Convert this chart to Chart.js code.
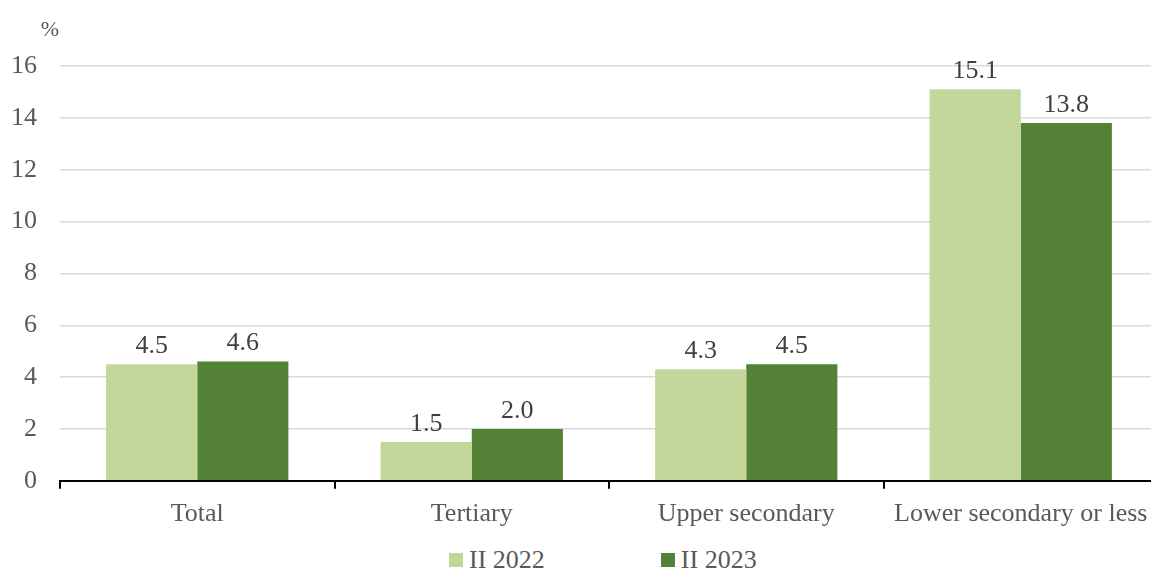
<!DOCTYPE html>
<html>
<head>
<meta charset="utf-8">
<script src="https://cdn.jsdelivr.net/npm/chart.js@4"></script>
<style>
  html, body { margin: 0; padding: 0; background: #fff; overflow: hidden; }
  #wrap { position: relative; width: 1160px; height: 570px; }
  #box { position: absolute; left: 0; top: 0; width: 1160px; height: 540px; }
  #legend { position: absolute; left: 449px; top: 545px; display: flex; gap: 116px; line-height: 30px;
    font-family: "Liberation Serif", serif; font-size: 26px; color: #595959; }
  #legend span.item { display: flex; align-items: center; }
  #legend i { display: inline-block; width: 14px; height: 14px; margin-right: 6px; }
</style>
</head>
<body>
<div id="wrap">
  <div id="box"><canvas id="chart"></canvas></div>
  <div id="legend"></div>
</div>
<script>
const categories = ["Total", "Tertiary", "Upper secondary", "Lower secondary or less"];
const values2022 = [4.5, 1.5, 4.3, 15.1];
const values2023 = [4.6, 2.0, 4.5, 13.8];
const seriesNames = ["II 2022", "II 2023"];
const seriesColors = ["#c4d79b", "#538135"];

// value labels above bars
const barLabels = {
  id: "barLabels",
  afterDatasetsDraw(chart) {
    const ctx = chart.ctx;
    ctx.save();
    ctx.font = "26px 'Liberation Serif'";
    ctx.fillStyle = "#404040";
    ctx.textAlign = "center";
    ctx.textBaseline = "bottom";
    chart.data.datasets.forEach((ds, i) => {
      chart.getDatasetMeta(i).data.forEach((bar, j) => {
        ctx.fillText(ds.data[j].toFixed(1), bar.x, bar.y - 5);
      });
    });
    // unit label
    ctx.fillStyle = "#595959";
    ctx.font = "22px 'Liberation Serif'";
    ctx.textAlign = "center";
    ctx.textBaseline = "middle";
    ctx.fillText("%", 50, 30);
    ctx.restore();
  }
};

new Chart(document.getElementById("chart"), {
  type: "bar",
  data: {
    labels: categories,
    datasets: [
      { label: seriesNames[0], data: values2022, backgroundColor: seriesColors[0] },
      { label: seriesNames[1], data: values2023, backgroundColor: seriesColors[1] }
    ]
  },
  options: {
    responsive: true,
    maintainAspectRatio: false,
    animation: false,
    categoryPercentage: 0.664,
    barPercentage: 1,
    layout: { padding: { top: 66, left: 0, right: 2, bottom: 0 } },
    plugins: { legend: { display: false }, tooltip: { enabled: false } },
    scales: {
      x: {
        grid: { offset: true, drawOnChartArea: false, drawTicks: true, tickLength: 8, color: "#000", lineWidth: 2 },
        border: { color: "#000", width: 2 },
        ticks: { color: "#595959", font: { family: "Liberation Serif", size: 26 }, padding: 10, maxRotation: 0 }
      },
      y: {
        min: 0,
        max: 16,
        afterFit: (scale) => { scale.width = 60; },
        ticks: { stepSize: 2, color: "#595959", font: { family: "Liberation Serif", size: 26 }, padding: 23 },
        grid: { color: "#d9d9d9", lineWidth: 1.5, drawTicks: false },
        border: { display: false }
      }
    }
  },
  plugins: [barLabels]
});

const legend = document.getElementById("legend");
seriesNames.forEach((name, i) => {
  const item = document.createElement("span");
  item.className = "item";
  item.innerHTML = '<i style="background:' + seriesColors[i] + '"></i>' + name;
  legend.appendChild(item);
});
</script>
</body>
</html>
